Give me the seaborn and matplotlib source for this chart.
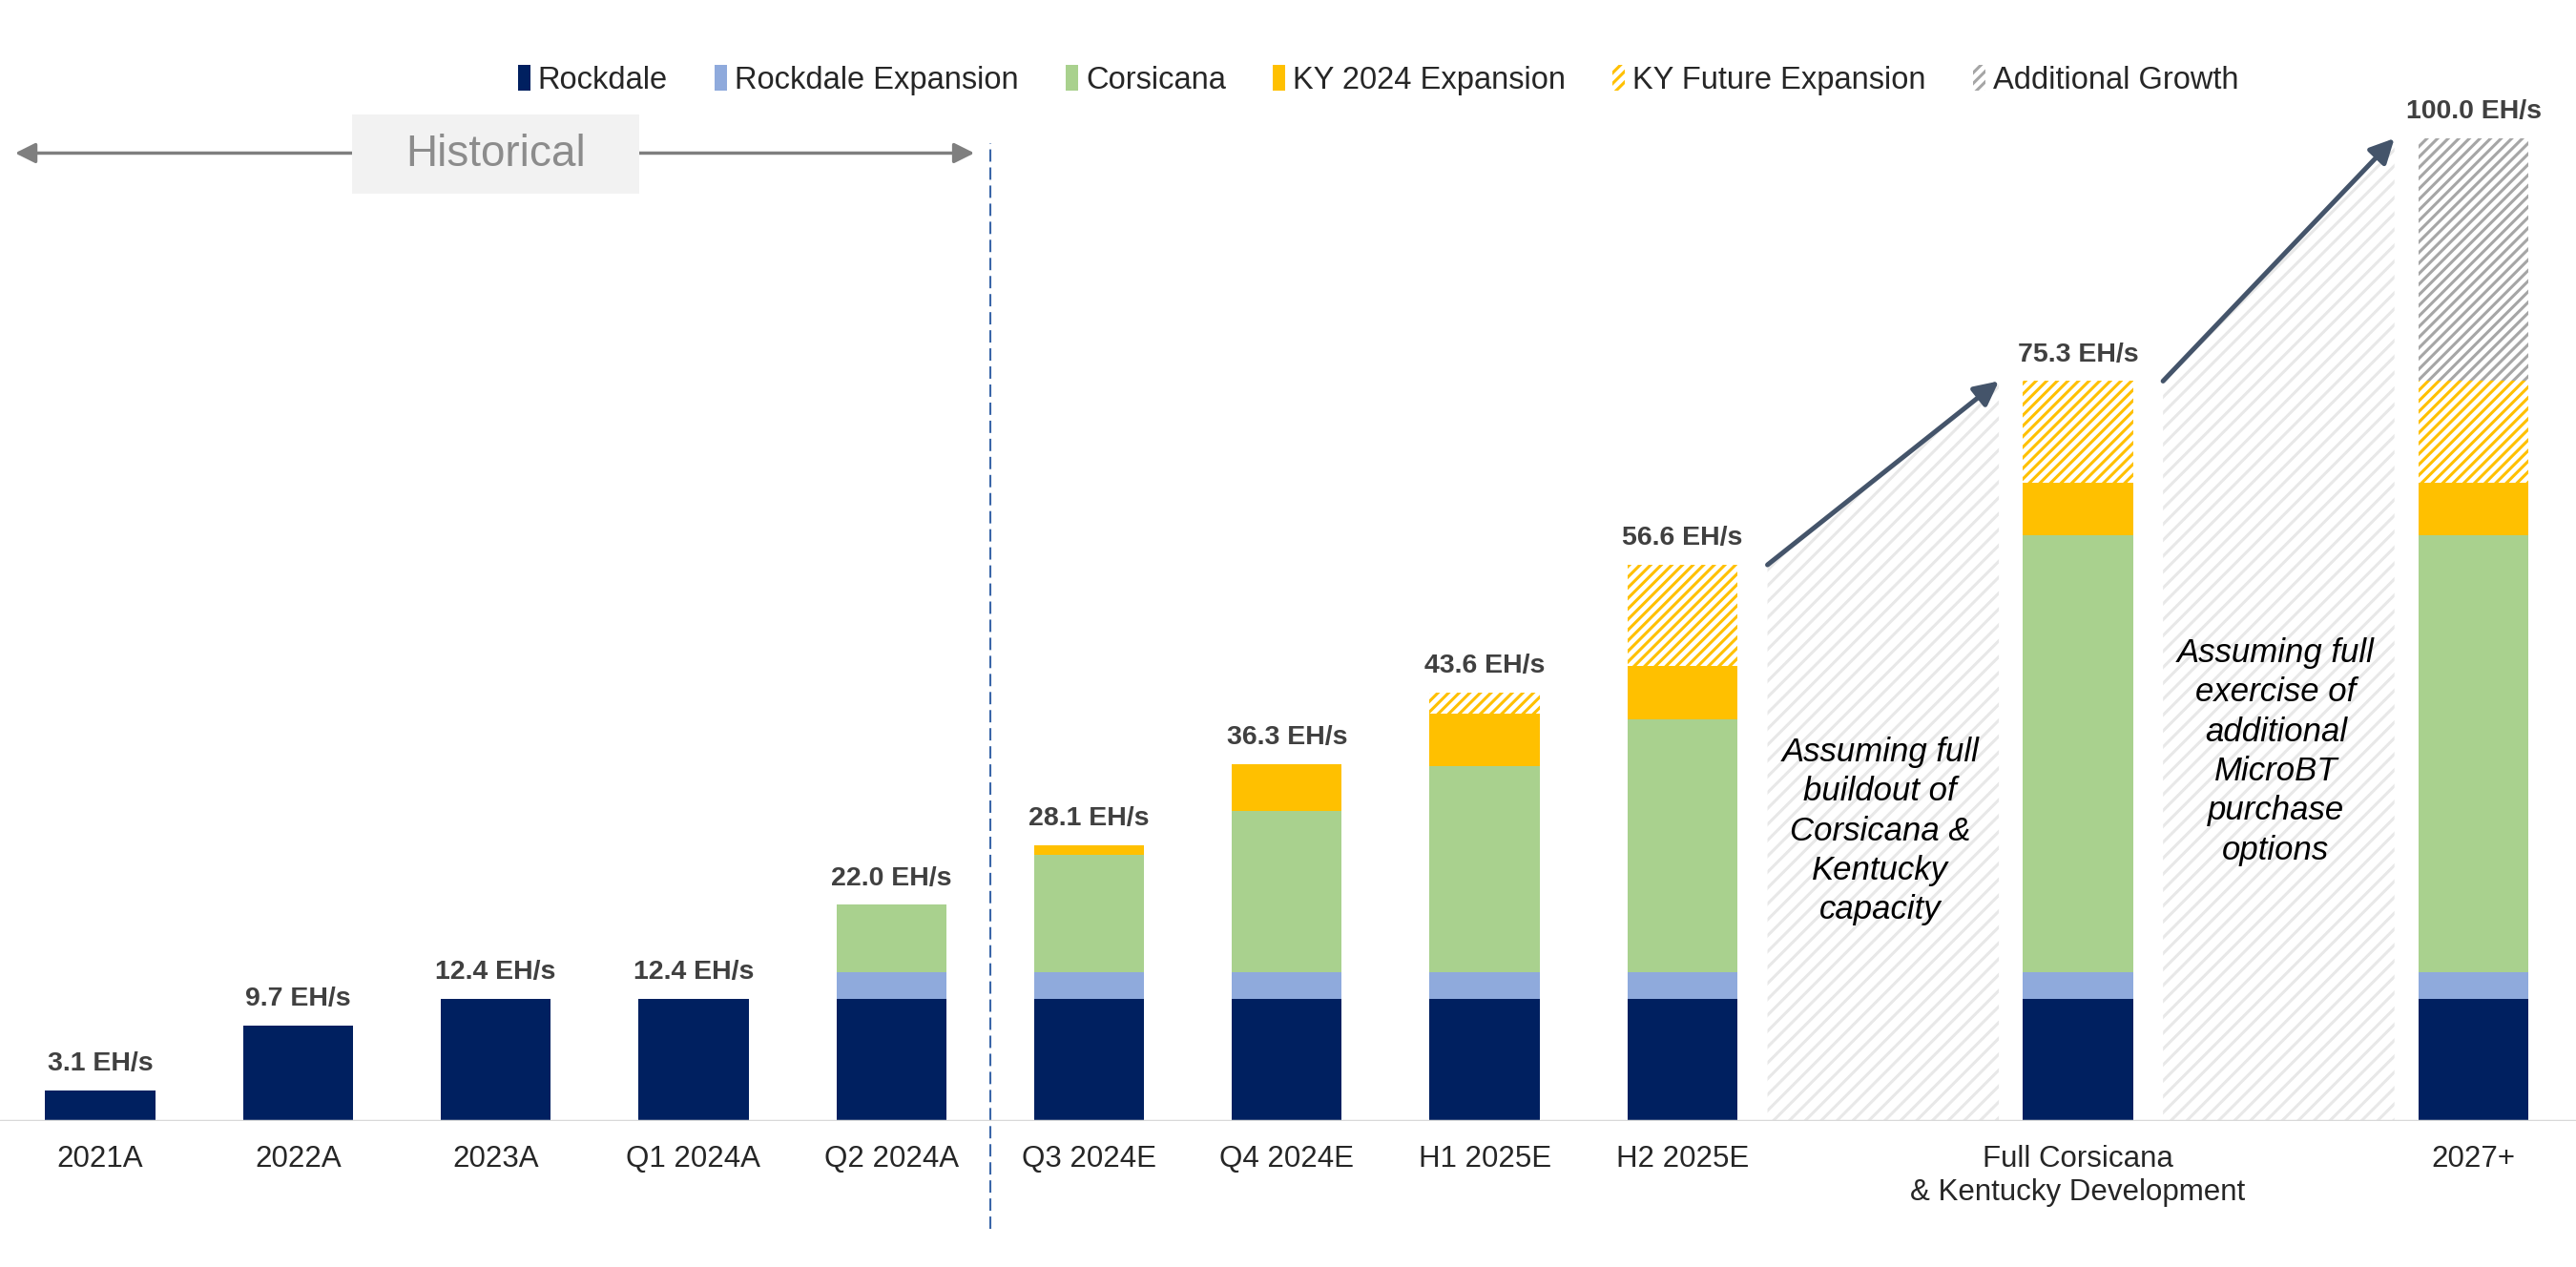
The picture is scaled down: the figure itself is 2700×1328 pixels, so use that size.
import seaborn as sns
import pandas as pd
import numpy as np
import matplotlib.pyplot as plt
from matplotlib.patches import Patch, Rectangle

# ---- data (EH/s) ----
categories = ['2021A', '2022A', '2023A', 'Q1 2024A', 'Q2 2024A', 'Q3 2024E', 'Q4 2024E',
              'H1 2025E', 'H2 2025E', 'Full Corsicana\n& Kentucky Development', '2027+']
rockdale = [3.1, 9.7, 12.4, 12.4, 12.4, 12.4, 12.4, 12.4, 12.4, 12.4, 12.4]
rockdale_expansion = [0, 0, 0, 0, 2.7, 2.7, 2.7, 2.7, 2.7, 2.7, 2.7]
corsicana = [0, 0, 0, 0, 6.9, 12.0, 16.5, 21.0, 25.8, 44.5, 44.5]
ky_2024 = [0, 0, 0, 0, 0, 1.0, 4.7, 5.4, 5.4, 5.4, 5.4]
ky_future = [0, 0, 0, 0, 0, 0, 0, 2.1, 10.3, 10.3, 10.3]
additional_growth = [0, 0, 0, 0, 0, 0, 0, 0, 0, 0, 24.7]

series_names = ['Rockdale', 'Rockdale Expansion', 'Corsicana', 'KY 2024 Expansion',
                'KY Future Expansion', 'Additional Growth']
series_colors = ['#002060', '#8FAADC', '#A9D18E', '#FFC000', '#FFC000', '#A6A6A6']
series_hatched = [False, False, False, False, True, True]

# empty slots between bars that hold the explanatory notes
gap_slots = ['gap1', 'gap2']
order = categories[:9] + [gap_slots[0]] + [categories[9]] + [gap_slots[1]] + [categories[10]]
gap_notes = ['Assuming full\nbuildout of\nCorsicana &\nKentucky\ncapacity',
             'Assuming full\nexercise of\nadditional\nMicroBT\npurchase\noptions']
note_heights = [29.5, 37.6]

FONT = ['Liberation Sans', 'DejaVu Sans']

sns.set_style('white')
plt.rcParams['font.family'] = FONT
plt.rcParams['hatch.linewidth'] = 2.2

layers = [rockdale, rockdale_expansion, corsicana, ky_2024, ky_future, additional_growth]
df = pd.DataFrame({'period': categories})
cum = np.zeros(len(categories))
for name, vals in zip(series_names, layers):
    cum = cum + np.array(vals)
    df[name] = cum
totals = df[series_names[-1]].values

fig = plt.figure(figsize=(27, 13.28), dpi=100)
ax = fig.add_axes([0, 0.1152, 1, 0.8848])

BAR_W = 0.556
# stacked bars drawn as cumulative heights, top layer first
for name, color, hatched in reversed(list(zip(series_names, series_colors, series_hatched))):
    sns.barplot(data=df, x='period', y=name, order=order, color=color, saturation=1,
                width=BAR_W, ax=ax, zorder=2)
    for p in ax.containers[-1]:
        p.set_linewidth(0)
        if hatched:
            p.set_facecolor('white')
            p.set_edgecolor(color)
            p.set_hatch('///')
        else:
            p.set_facecolor(color)
            p.set_edgecolor(color)

# total labels
for cat, tot in zip(categories, totals):
    ax.annotate(f'{tot:.1f} EH/s', xy=(order.index(cat), tot), xytext=(0, 15),
                textcoords='offset points', ha='center', va='baseline',
                fontsize=20.5, fontweight='bold', color='#404040')

# hatched "bridge" areas with growth arrows and notes
for gap, note, ny in zip(gap_slots, gap_notes, note_heights):
    g = order.index(gap)
    prev_tot = totals[categories.index(order[g - 1])]
    next_tot = totals[categories.index(order[g + 1])]
    x0, x1 = g - 0.57, g + 0.60
    ax.fill([x0, x0, x1, x1], [0, prev_tot, next_tot, 0], facecolor='white',
            edgecolor='#E8E8E8', hatch='//', lw=0, zorder=1)
    ax.annotate('', xy=(x1, next_tot), xytext=(x0, prev_tot),
                arrowprops=dict(arrowstyle='-|>', color='#44546A', lw=3.6,
                                mutation_scale=38, shrinkA=0, shrinkB=0), zorder=4)
    ax.text(g, ny, note, ha='center', va='center', fontsize=25, style='italic',
            color='black', linespacing=1.32, zorder=5)

# historical marker
ax.annotate('', xy=(-0.43, 98.5), xytext=(4.42, 98.5),
            arrowprops=dict(arrowstyle='<|-|>', color='#7F7F7F', lw=2.5,
                            mutation_scale=32, shrinkA=0, shrinkB=0), zorder=3)
ax.add_patch(Rectangle((1.273, 94.4), 1.452, 8.0, facecolor='#F2F2F2',
                       edgecolor='none', zorder=4))
ax.text(2.0, 98.4, 'Historical', ha='center', va='center', fontsize=33,
        color='#8C8C8C', zorder=5)
ax.plot([4.5, 4.5], [-11, 99.5], ls=(0, (6.2, 2.9)), lw=1.5, color='#3A66A8',
        clip_on=False, zorder=3)

# axes styling
ax.axhline(0, color='#D9D9D9', lw=2.5, zorder=3)
ax.set_xlim(-0.5065, 12.518)
ax.set_ylim(0, 114.08)
ax.set_xticks(range(len(order)))
ax.set_xticklabels(['' if o in gap_slots else o for o in order], fontsize=22.5,
                   linespacing=1.2)
ax.tick_params(axis='x', length=0, pad=18)
ax.set_yticks([])
ax.set_xlabel('')
ax.set_ylabel('')
sns.despine(ax=ax, left=True, bottom=True)

handles = [Patch(facecolor='white' if h else c, edgecolor=c, hatch='///' if h else None,
                 lw=0, label=n)
           for n, c, h in zip(series_names, series_colors, series_hatched)]
fig.legend(handles=handles, loc='center', bbox_to_anchor=(0.535, 0.937), ncol=6,
           frameon=False, fontsize=23.5, handlelength=0.4, handleheight=0.9,
           handletextpad=0.25, columnspacing=1.5)

fig.savefig('out.png', dpi=100)
